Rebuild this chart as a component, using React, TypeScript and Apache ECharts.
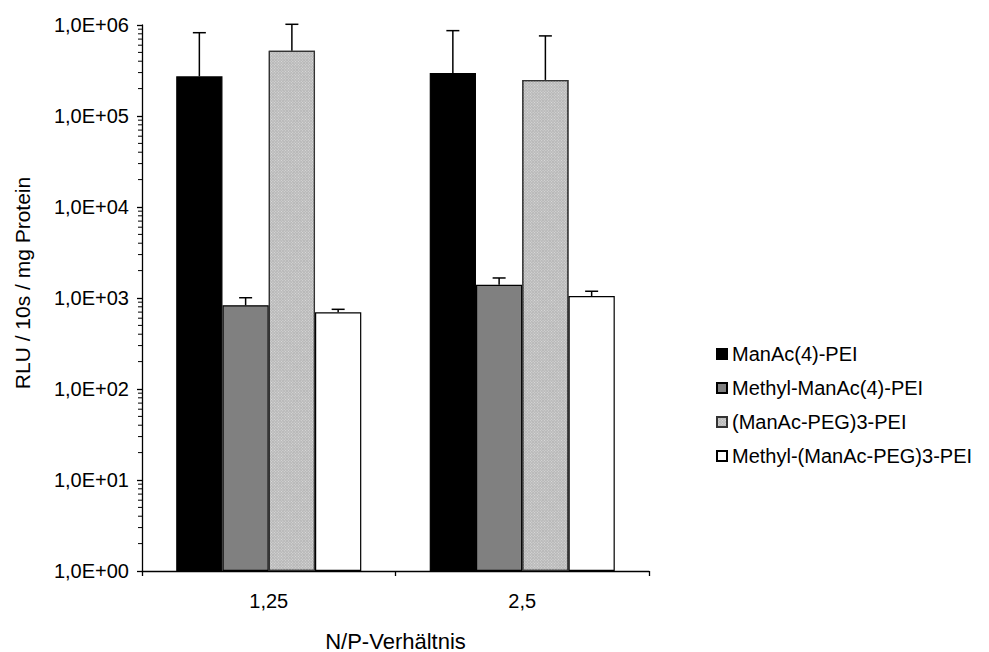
import React, { useEffect, useRef } from "react";
import * as echarts from "echarts";

const categories = ["1,25", "2,5"];
const seriesNames = [
  "ManAc(4)-PEI",
  "Methyl-ManAc(4)-PEI",
  "(ManAc-PEG)3-PEI",
  "Methyl-(ManAc-PEG)3-PEI",
];
const manAcValues = [273000, 297000];
const manAcErrors = [550000, 570000];
const methylManAcValues = [832, 1400];
const methylManAcErrors = [175, 260];
const pegValues = [522000, 249000];
const pegErrors = [496000, 510000];
const methylPegValues = [697, 1052];
const methylPegErrors = [54, 134];
const yTickExponents = [0, 1, 2, 3, 4, 5, 6];
const minorMantissas = [2, 3, 4, 5, 6, 7, 8, 9];

const FONT = "'Liberation Sans', Arial, sans-serif";

export default function App() {
  const ref = useRef<HTMLDivElement>(null);
  useEffect(() => {
    if (!ref.current) return;
    const chart = echarts.init(ref.current, undefined, { renderer: "svg" });

    const values = [manAcValues, methylManAcValues, pegValues, methylPegValues];
    const errors = [manAcErrors, methylManAcErrors, pegErrors, methylPegErrors];
    const fills = ["#000000", "#808080", "#b8b8b8", "#ffffff"];

    const errData: number[][] = [];
    values.forEach((arr, s) => {
      arr.forEach((v, i) => {
        errData.push([i, v, v + errors[s][i], s]);
      });
    });

    const minorData: number[][] = [];
    yTickExponents.slice(0, -1).forEach((e) => {
      minorMantissas.forEach((m) => minorData.push([0, m * Math.pow(10, e)]));
    });

    const barSeries = seriesNames.map((name, s) => ({
      name,
      type: "bar",
      data: values[s],
      barGap: "0%",
      barCategoryGap: "27%",
      itemStyle: {
        color: fills[s],
        borderColor: s === 2 ? "#333" : "#000",
        borderWidth: 1.2,
        decal:
          s === 2
            ? {
                symbol: "rect",
                symbolSize: 1,
                dashArrayX: [1, 1],
                dashArrayY: [1, 1],
                rotation: Math.PI / 4,
                color: "rgba(255,255,255,0.5)",
              }
            : undefined,
      },
      z: 2,
    }));

    const option: any = {
      animation: false,
      textStyle: { fontFamily: FONT },
      grid: {
        left: 142,
        right: 340,
        top: 25,
        bottom: 81,
        containLabel: false,
        outerBoundsMode: "none",
      },
      legend: {
        data: seriesNames,
        orient: "vertical",
        left: 711,
        top: 339,
        itemWidth: 10,
        itemHeight: 10,
        itemGap: 14,
        icon: "rect",
        textStyle: {
          fontFamily: FONT,
          fontSize: 20,
          color: "#000",
          lineHeight: 20,
        },
      },
      xAxis: {
        type: "category",
        data: categories,
        axisLine: { lineStyle: { color: "#000", width: 1.3 } },
        axisTick: { show: true, length: 5, lineStyle: { color: "#000", width: 1.3 } },
        axisLabel: { color: "#000", fontSize: 20, fontFamily: FONT, margin: 20 },
        name: "N/P-Verhältnis",
        nameLocation: "middle",
        nameGap: 59,
        nameTextStyle: { color: "#000", fontSize: 22, fontFamily: FONT },
      },
      yAxis: {
        type: "log",
        logBase: 10,
        min: 1,
        max: 1000000,
        axisLine: { show: true, lineStyle: { color: "#000", width: 1.3 } },
        axisTick: { show: true, length: 5, lineStyle: { color: "#000", width: 1.3 } },
        splitLine: { show: false },
        axisLabel: {
          color: "#000",
          fontSize: 20,
          fontFamily: FONT,
          margin: 13,
          formatter: (v: number) =>
            "1,0E+" + String(Math.round(Math.log10(v))).padStart(2, "0"),
        },
      },
      graphic: [
        {
          type: "text",
          x: 22,
          y: 283,
          rotation: Math.PI / 2,
          style: {
            text: "RLU / 10s / mg Protein",
            fontFamily: FONT,
            fontSize: 21,
            fill: "#000",
            textAlign: "center",
            textVerticalAlign: "middle",
          },
        },
      ],
      series: [
        ...barSeries,
        {
          type: "custom",
          name: "minorTicks",
          clip: false,
          silent: true,
          data: minorData,
          encode: { x: 0, y: 1 },
          renderItem: (params: any, api: any) => {
            const p = api.coord([0, api.value(1)]);
            const x0 = params.coordSys.x;
            return {
              type: "line",
              shape: { x1: x0 - 4, y1: p[1], x2: x0, y2: p[1] },
              style: { stroke: "#000", lineWidth: 1 },
            };
          },
          z: 5,
        },
        {
          type: "custom",
          name: "errors",
          clip: false,
          silent: true,
          data: errData,
          encode: { x: 0, y: [1, 2] },
          renderItem: (params: any, api: any) => {
            const cat = api.value(0);
            const s = api.value(3);
            const base = api.coord([cat, api.value(1)]);
            const top = api.coord([cat, api.value(2)]);
            const catW = api.size([1, 0])[0];
            const bw = (catW * 0.73) / 4;
            const cx = base[0] - 2 * bw + (s + 0.5) * bw;
            const half = 6.5;
            return {
              type: "group",
              children: [
                {
                  type: "line",
                  shape: { x1: cx, y1: base[1], x2: cx, y2: top[1] },
                  style: { stroke: "#000", lineWidth: 1.5 },
                },
                {
                  type: "line",
                  shape: { x1: cx - half, y1: top[1], x2: cx + half, y2: top[1] },
                  style: { stroke: "#000", lineWidth: 1.5 },
                },
              ],
            };
          },
          z: 4,
        },
      ],
    };
    chart.setOption(option);
    return () => chart.dispose();
  }, []);
  return <div ref={ref} style={{ width: 989, height: 652, position: "absolute", left: 0, top: 0 }} />;
}
